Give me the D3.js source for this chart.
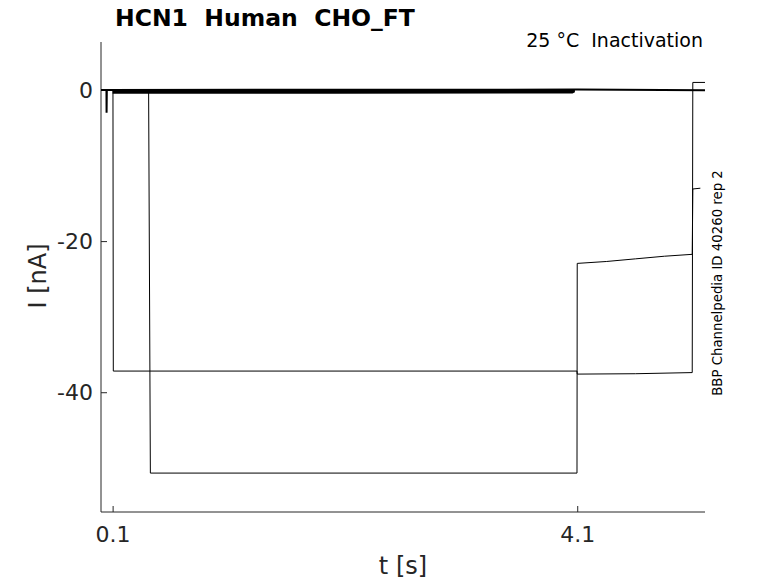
<html>
<head>
<style>
  body { margin: 0; background: #fff; }
  svg { font-family: "DejaVu Sans", sans-serif; }
  .axis path, .axis line { stroke: #262626; }
  .axis text { fill: #262626; font-size: 22px; font-family: "DejaVu Sans", sans-serif; }
</style>
</head>
<body>
<svg width="778" height="583"></svg>
<script src="https://d3js.org/d3.v7.min.js"></script>
<script>
// sweeps: [t in s, I in nA]
let sweep1 = [[0, 0], [0.103, 0], [0.106, -37.2], [4.098, -37.2], [4.1, -37.6],
              [4.6, -37.55], [5.09, -37.4], [5.095, 1.0], [5.2, 1.0]]
let sweep2 = [[0, 0], [0.41, 0], [0.425, -50.7], [4.098, -50.7], [4.1, -22.95],
              [4.35, -22.7], [4.6, -22.35], [4.85, -22.0], [5.09, -21.75],
              [5.095, -13.1], [5.16, -13.0]]
let baseline = [[0, 0], [0.047, 0], [0.048, -3.0], [0.05, 0], [4.1, 0.05], [5.2, -0.05]]
// noisy holding current band before the step
let band = [[0.1, -0.5, 0.1], [2.0, -0.5, 0.1], [4.06, -0.45, 0.1], [4.08, -0.3, 0.05]]

let xTicks = [0.1, 4.1]
let yTicks = [0, -20, -40]

let titleText = "HCN1  Human  CHO_FT"
let tempText = "25 °C  Inactivation"
let idText = "BBP Channelpedia ID 40260 rep 2"

let svg = d3.select("svg")
let margin = {top: 42, right: 73, bottom: 71, left: 101}
let width = 778, height = 583

let x = d3.scaleLinear()
    .domain([0, 5.2])
    .range([margin.left, width - margin.right])

let y = d3.scaleLinear()
    .domain([-55.85, 6.35])
    .range([height - margin.bottom, margin.top])

let xAxis = d3.axisBottom(x)
    .tickValues(xTicks)
    .tickSize(-6)
    .tickPadding(14)
    .tickFormat(d3.format(".1f"))

let yAxis = d3.axisLeft(y)
    .tickValues(yTicks)
    .tickSize(-6)
    .tickPadding(8)

svg.append("g")
    .attr("class", "x axis")
    .attr("transform", `translate(0, ${height - margin.bottom})`)
    .call(xAxis)
    .call(g => g.select(".domain").attr("d", `M${margin.left},0H${width - margin.right}`))

svg.append("g")
    .attr("class", "y axis")
    .attr("transform", `translate(${margin.left}, 0)`)
    .call(yAxis)
    .call(g => g.select(".domain").attr("d", `M0,${margin.top}V${height - margin.bottom}`))

svg.selectAll(".y.axis text").text(d => d == 0 ? "0" : String(d))

let line = d3.line()
    .x(d => x(d[0]))
    .y(d => y(d[1]))

let area = d3.area()
    .x(d => x(d[0]))
    .y0(d => y(d[1]))
    .y1(d => y(d[2]))

svg.append("path")
    .datum(band)
    .attr("fill", "#000")
    .attr("d", area)

svg.append("path")
    .datum(baseline)
    .attr("fill", "none")
    .attr("stroke", "#000")
    .attr("stroke-width", 2)
    .attr("d", line)

svg.selectAll(".sweep")
    .data([sweep1, sweep2])
    .join("path")
    .attr("class", "sweep")
    .attr("fill", "none")
    .attr("stroke", "#000")
    .attr("stroke-width", 1)
    .attr("d", line)

svg.append("text")
    .attr("x", 115)
    .attr("y", 26)
    .style("font-size", "23.5px")
    .style("font-weight", "bold")
    .attr("fill", "#000")
    .attr("xml:space", "preserve")
    .text(titleText)

svg.append("text")
    .attr("x", 703)
    .attr("y", 47)
    .attr("text-anchor", "end")
    .style("font-size", "19px")
    .attr("fill", "#000")
    .attr("xml:space", "preserve")
    .text(tempText)

svg.append("text")
    .attr("transform", "translate(722, 283) rotate(-90)")
    .attr("text-anchor", "middle")
    .style("font-size", "13.3px")
    .attr("fill", "#000")
    .text(idText)

svg.append("text")
    .attr("transform", "translate(46, 276) rotate(-90)")
    .attr("text-anchor", "middle")
    .style("font-size", "24px")
    .attr("fill", "#262626")
    .text("I [nA]")

svg.append("text")
    .attr("x", 403)
    .attr("y", 574)
    .attr("text-anchor", "middle")
    .style("font-size", "24px")
    .attr("fill", "#262626")
    .text("t [s]")
</script>
</body>
</html>
